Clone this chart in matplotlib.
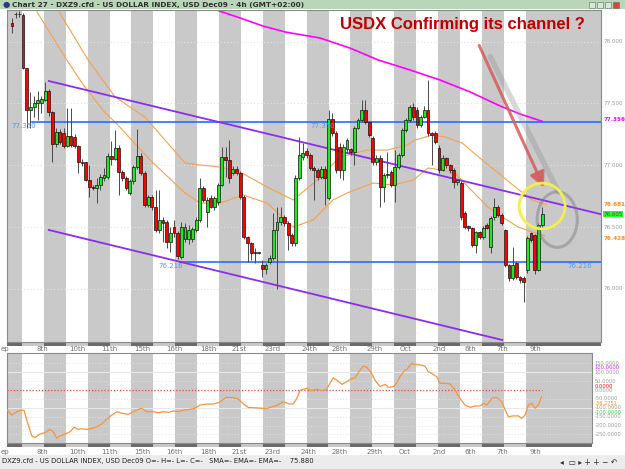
import matplotlib
matplotlib.use('Agg')
import matplotlib.pyplot as plt
import matplotlib.patches as mpatches
import matplotlib.transforms as mtransforms

plt.rcParams['font.family'] = ['DejaVu Sans']

# ---- candles, 4h bars ----
opens = [78.152, 78.225, 78.222, 78.217, 77.787, 77.447, 77.472, 77.504, 77.500, 77.528,
         77.601, 77.431, 77.172, 77.269, 77.260, 77.156, 77.237, 77.230, 77.156, 77.026,
         77.026, 76.880, 76.824, 76.816, 76.840, 76.897, 76.905, 77.075, 77.051, 77.140,
         76.945, 76.897, 76.775, 76.872, 76.986, 77.075, 76.937, 76.678, 76.743, 76.662,
         76.476, 76.557, 76.540, 76.378, 76.500, 76.451, 76.257, 76.400, 76.400, 76.400,
         76.476, 76.557, 76.816, 76.621, 76.735, 76.662, 76.700, 76.840, 77.067, 77.043,
         76.937, 76.970, 76.937, 76.743, 76.419, 76.370, 76.295, 76.290, 76.192, 76.160,
         76.217, 76.249, 76.476, 76.540, 76.581, 76.532, 76.435, 76.370, 76.897, 77.067,
         77.115, 77.083, 76.978, 76.961, 76.905, 76.970, 76.735, 77.374, 77.261, 77.150,
         76.961, 77.131, 77.131, 77.107, 77.302, 77.366, 77.447, 77.350, 77.221, 77.026,
         77.059, 76.824, 76.921, 76.945, 76.840, 76.986, 77.083, 77.285, 77.366, 77.472,
         77.447, 77.326, 77.391, 77.447, 77.261, 77.261, 77.140, 76.961, 77.059, 77.002,
         76.961, 76.864, 76.856, 76.613, 76.508, 76.492, 76.354, 76.460, 76.419, 76.516,
         76.338, 76.581, 76.662, 76.597, 76.476, 76.192, 76.087, 76.208, 76.095, 76.087,
         76.152, 76.451, 76.435, 76.152, 76.516]
highs = [78.192, 78.241, 78.245, 78.230, 77.787, 77.593, 77.560, 77.600, 77.560, 77.674,
         77.620, 77.440, 77.300, 77.290, 77.300, 77.464, 77.464, 77.250, 77.160, 77.050,
         77.030, 77.002, 76.840, 76.900, 76.930, 76.980, 77.100, 77.200, 77.285, 77.160,
         76.960, 76.910, 76.890, 77.000, 77.294, 77.100, 76.950, 76.760, 76.760, 76.800,
         76.800, 76.580, 76.560, 76.500, 76.560, 76.470, 76.540, 76.530, 76.520, 76.500,
         76.580, 76.897, 76.830, 76.740, 76.760, 76.750, 76.860, 77.148, 77.148, 77.204,
         76.990, 76.990, 76.950, 76.760, 76.430, 76.380, 76.330, 76.300, 76.232, 76.210,
         76.270, 76.613, 76.662, 76.662, 76.600, 76.550, 76.450, 76.920, 77.229, 77.180,
         77.140, 77.100, 76.990, 76.980, 76.990, 76.990, 77.447, 77.420, 77.280, 77.180,
         77.170, 77.220, 77.140, 77.320, 77.380, 77.530, 77.528, 77.360, 77.240, 77.080,
         77.080, 76.940, 77.107, 76.960, 77.123, 77.100, 77.300, 77.380, 77.490, 77.500,
         77.470, 77.410, 77.480, 77.690, 77.270, 77.280, 77.160, 77.080, 77.070, 77.010,
         76.980, 76.890, 76.870, 76.630, 76.520, 76.500, 76.470, 76.470, 76.510, 76.530,
         76.590, 76.735, 76.680, 76.610, 76.480, 76.200, 76.340, 76.220, 76.100, 76.100,
         76.430, 76.460, 76.440, 76.530, 76.662]
lows = [78.071, 78.192, 78.200, 77.780, 77.302, 77.302, 77.390, 77.366, 77.420, 77.520,
        77.400, 77.026, 77.150, 77.170, 77.140, 77.148, 77.150, 77.140, 76.937, 76.990,
        76.870, 76.743, 76.800, 76.694, 76.800, 76.870, 76.890, 77.000, 77.040, 76.759,
        76.870, 76.800, 76.760, 76.850, 76.970, 76.920, 76.660, 76.660, 76.640, 76.460,
        76.450, 76.380, 76.330, 76.300, 76.420, 76.240, 76.240, 76.378, 76.360, 76.380,
        76.460, 76.540, 76.700, 76.500, 76.650, 76.640, 76.680, 76.830, 76.905, 76.856,
        76.920, 76.920, 76.730, 76.400, 76.217, 76.230, 76.210, 76.280, 76.095, 76.120,
        76.200, 76.232, 75.998, 76.520, 76.510, 76.313, 76.350, 76.350, 76.880, 77.040,
        77.060, 76.960, 76.719, 76.880, 76.890, 76.678, 76.720, 77.240, 76.940, 76.900,
        76.880, 77.100, 77.080, 77.002, 77.290, 77.350, 77.330, 77.230, 77.000, 77.000,
        76.662, 76.700, 76.900, 76.820, 76.700, 76.970, 77.070, 77.270, 77.350, 77.370,
        77.300, 77.310, 77.380, 77.240, 77.000, 77.170, 76.940, 76.950, 76.980, 76.940,
        76.816, 76.840, 76.560, 76.480, 76.470, 76.340, 76.290, 76.400, 76.400, 76.480,
        76.290, 76.560, 76.580, 76.520, 76.180, 76.060, 76.070, 76.080, 76.050, 75.893,
        76.130, 76.380, 76.120, 76.140, 76.500]
closes = [78.127, 78.222, 78.225, 77.787, 77.447, 77.472, 77.504, 77.528, 77.536, 77.601,
          77.431, 77.172, 77.269, 77.188, 77.156, 77.237, 77.164, 77.156, 77.026, 77.020,
          76.880, 76.824, 76.816, 76.840, 76.905, 76.921, 77.075, 77.051, 77.140, 76.945,
          76.897, 76.816, 76.872, 76.986, 77.075, 76.937, 76.678, 76.743, 76.662, 76.476,
          76.557, 76.532, 76.378, 76.451, 76.451, 76.265, 76.500, 76.500, 76.476, 76.480,
          76.557, 76.816, 76.719, 76.719, 76.662, 76.735, 76.840, 77.067, 77.043, 76.897,
          76.970, 76.937, 76.743, 76.419, 76.370, 76.290, 76.290, 76.295, 76.160, 76.192,
          76.249, 76.476, 76.540, 76.581, 76.532, 76.435, 76.370, 76.897, 77.083, 77.099,
          77.083, 76.978, 76.961, 76.905, 76.970, 76.897, 77.374, 77.261, 76.961, 76.961,
          77.150, 77.204, 77.107, 77.302, 77.366, 77.447, 77.350, 77.245, 77.026, 77.059,
          76.824, 76.921, 76.929, 76.840, 76.986, 77.083, 77.285, 77.366, 77.472, 77.391,
          77.326, 77.391, 77.447, 77.261, 77.245, 77.188, 76.961, 77.059, 77.002, 76.961,
          76.864, 76.880, 76.581, 76.500, 76.492, 76.354, 76.460, 76.419, 76.492, 76.492,
          76.573, 76.662, 76.597, 76.532, 76.192, 76.087, 76.192, 76.095, 76.070, 76.055,
          76.411, 76.395, 76.152, 76.516, 76.605]

# moving averages (bar position, price)
ema_fast_x = [6.8, 14.9, 19.0, 25.3, 28.0, 37.5, 47.0, 51.1, 56.5, 62.8, 69.3, 76.4, 81.8,
              87.2, 91.0, 98.1, 103.5, 109.0, 113.0, 116.8, 120.4, 123.9, 129.3, 133.2,
              137.5, 141.3, 144.8]
ema_fast_y = [78.241, 77.852, 77.666, 77.423, 77.350, 77.043, 76.775, 76.694, 76.694, 76.759,
              76.694, 76.500, 76.557, 76.719, 76.775, 76.856, 76.840, 76.880, 76.978, 76.961,
              76.937, 76.824, 76.662, 76.581, 76.500, 76.460, 76.428]
ema_slow_x = [12.8, 20.7, 28.0, 36.1, 47.0, 51.1, 56.5, 62.0, 69.3, 76.4, 82.9, 89.1, 96.5,
              101.9, 107.3, 109.5, 114.1, 117.7, 122.3, 127.7, 132.1, 136.7, 141.3, 145.1]
ema_slow_y = [78.241, 77.852, 77.553, 77.391, 77.018, 77.002, 76.986, 76.945, 76.824, 76.719,
              76.880, 77.067, 77.123, 77.123, 77.164, 77.204, 77.245, 77.229, 77.180, 77.043,
              76.937, 76.824, 76.719, 76.681]
sma_x = [56.3, 62.0, 68.2, 74.2, 83.7, 91.8, 99.5, 108.2, 116.3, 124.5, 132.6, 138.0, 144.0]
sma_y = [78.249, 78.192, 78.127, 78.079, 78.030, 77.949, 77.852, 77.771, 77.690, 77.593,
         77.480, 77.415, 77.356]

# trend lines and levels
upper_channel = [(10.0, 77.682), (159.8, 76.605)]
lower_channel = [(10.0, 76.476), (133.2, 75.585)]
levels = [77.350, 76.216]
level_starts = [5.4, 45.7]

# CCI indicator
cci_x = [-1.3, -0.1, 1.3, 2.6, 3.3, 4.0, 5.4, 6.3, 7.6, 9.0, 10.3, 11.2, 12.2, 13.0, 14.4,
         15.8, 16.9, 18.0, 18.9, 20.3, 21.7, 23.0, 24.4, 25.7, 27.1, 28.5, 29.8, 31.6, 33.0,
         34.3, 35.2, 36.6, 38.4, 39.8, 41.1, 42.5, 43.8, 45.2, 46.6, 48.4, 49.7, 51.1, 52.9,
         54.7, 56.1, 57.4, 58.3, 60.1, 61.5, 62.9, 64.2, 68.3, 69.2, 70.1, 71.9, 73.7, 75.5,
         76.4, 77.4, 78.3, 80.1, 81.4, 82.8, 84.2, 85.5, 86.4, 87.3, 88.2, 89.6, 91.0, 91.9,
         93.2, 94.6, 95.5, 96.4, 97.7, 98.6, 100.0, 101.4, 102.3, 103.6, 104.5, 105.4, 106.8,
         107.3, 108.6, 109.5, 110.9, 112.2, 113.1, 114.5, 115.4, 116.3, 117.7, 119.0, 120.4,
         121.7, 123.1, 124.5, 125.8, 127.2, 128.1, 129.0, 130.4, 131.7, 133.1, 134.0, 134.9,
         136.2, 137.6, 138.5, 139.4, 140.3, 141.2, 142.1, 143.0, 143.9]
cci_y = [-113, -141, -122, -113, -116, -169, -259, -267, -248, -240, -222, -235, -272, -259,
         -248, -235, -210, -222, -218, -222, -216, -207, -192, -165, -141, -122, -131, -137,
         -122, -109, -103, -122, -122, -128, -122, -126, -118, -122, -113, -109, -103, -85,
         -79, -79, -71, -53, -41, -43, -51, -79, -98, -103, -107, -98, -88, -66, -79, -79, -47,
         0, 9, -4, 4, -4, 4, 38, 69, 56, 32, 47, 60, 69, 113, 135, 128, 94, 56, 19, 32, 15, 19,
         38, 75, 113, 116, 150, 144, 141, 135, 103, 88, 75, 38, 38, 34, 0, -47, -85, -98, -90,
         -90, -75, -85, -47, -41, -66, -113, -150, -146, -146, -160, -141, -85, -75, -103, -85,
         -38]

date_labels = ['ep', '8th', '10th', '11th', '15th', '16th', '18th', '21st', '23rd', '24th',
               '28th', '29th', 'Oct', '2nd', '6th', '7th', '9th']
date_pos = [-1.8, 8.2, 17.7, 26.4, 35.3, 44.0, 53.3, 61.7, 70.9, 80.7, 89.1, 98.4, 106.8,
            116.0, 124.5, 133.2, 142.1]

price_ticks = [78.0, 77.5, 77.0, 76.5, 76.0]
cci_ticks = [150, 100, 50, 0, -50, -100, -150, -200, -250]

# ---- figure ----
W, H = 625, 469
fig = plt.figure(figsize=(W / 100, H / 100), dpi=100)
fig.patch.set_facecolor('white')

def fx(px):
    return px / W

def fy(py):
    return 1 - py / H

ax = fig.add_axes([fx(7), fy(342), fx(601) - fx(7), fy(10) - fy(342)])
ax2 = fig.add_axes([fx(7), fy(443), fx(592) - fx(7), fy(353) - fy(443)])

x_left = -1.36
ax.set_xlim(x_left, 160.0)
ax.set_ylim(75.569, 78.257)
ax2.set_xlim(x_left, 157.6)
ax2.set_ylim(-298.6, 208.5)

band_gray = '#c9c9c9'
for a, xr in ((ax, 160.0), (ax2, 157.6)):
    a.set_facecolor('white')
    for k in range(-1, 24, 2):
        x0 = 2.7 + 5.95 * k
        x1 = xr if k == 23 else x0 + 5.95
        a.axvspan(x0, x1, color=band_gray, lw=0, zorder=0)
    a.set_xticks([])
    a.set_yticks([])
    for s in a.spines.values():
        s.set_color('#8a8a8a')
        s.set_linewidth(0.8)

# price grid
for t in price_ticks:
    ax.axhline(t, color='#e4e4e4', lw=0.8, ls=(0, (1, 2)), zorder=1)

# moving averages
ax.plot(ema_slow_x, ema_slow_y, color='#f7a04c', lw=0.8, zorder=2)
ax.plot(ema_fast_x, ema_fast_y, color='#f7a04c', lw=0.8, zorder=2)
ax.plot(sma_x, sma_y, color='#ff00ff', lw=1.2, zorder=2)

# levels
for lv, st in zip(levels, level_starts):
    ax.plot([st, 160.0], [lv, lv], color='#1f6fff', lw=1.2, zorder=3)

# channel
for seg in (upper_channel, lower_channel):
    ax.plot([seg[0][0], seg[1][0]], [seg[0][1], seg[1][1]], color='#8c2cf0', lw=1.3, zorder=3)

# candles
xs = list(range(len(opens)))
for i, o, h, l, c in zip(xs, opens, highs, lows, closes):
    ax.vlines(i, l, h, color='#4a4a4a', lw=0.7, zorder=4)
    up = c >= o
    ax.bar(i, max(abs(c - o), 0.006), bottom=min(o, c), width=0.78,
           color='#1ee81e' if up else '#ff0000', edgecolor='#111111', lw=0.5, zorder=5)

# annotations
ax.plot([129.9, 148.5], [77.88, 76.78], color='#909090', lw=4, alpha=0.35,
        solid_capstyle='round', zorder=6)
ax.add_patch(mpatches.Ellipse((148.1, 76.56), 10.9, 0.45, fill=False,
                              edgecolor='#7a7a7a', lw=2.2, alpha=0.45, zorder=6))
ax.annotate('', xy=(144.8, 76.80), xytext=(126.6, 77.99),
            arrowprops=dict(arrowstyle='-|>,head_length=0.9,head_width=0.45',
                            color='#d65c5c', lw=2.2, alpha=0.85), zorder=7)
ax.add_patch(mpatches.Ellipse((144.0, 76.67), 12.5, 0.37, fill=False,
                              edgecolor='#f2f04a', lw=2.0, zorder=7))
ax.text(0.766, 0.955, 'USDX Confirming its channel ?', transform=ax.transAxes,
        ha='center', va='center', fontsize=12, fontweight='bold', color='#c00000',
        family=['Liberation Sans', 'DejaVu Sans'], zorder=8)

# level labels
lab_blue = '#4c9bff'
ax.text(3.2, 77.350 - 0.03, '77.350', color=lab_blue, fontsize=5.0, ha='center', va='center', zorder=8)
ax.text(84.5, 77.350 - 0.03, '77.350', color=lab_blue, fontsize=5.0, ha='center', va='center', zorder=8)
ax.text(43.0, 76.216 - 0.035, '76.216', color=lab_blue, fontsize=5.0, ha='center', va='center', zorder=8)
ax.text(154.2, 76.216 - 0.035, '76.216', color=lab_blue, fontsize=5.0, ha='center', va='center', zorder=8)

# right price axis labels
rfs = 4.1
rt = mtransforms.blended_transform_factory(ax.transAxes, ax.transData)
for t in price_ticks:
    ax.text(1.004, t, '%.3f' % t, transform=rt, fontsize=rfs, color='#9a9a9a',
            ha='left', va='center', clip_on=False)
ax.text(1.004, sma_y[-1] + 0.015, '%.3f' % sma_y[-1], transform=rt, fontsize=rfs,
        color='#ff00ff', ha='left', va='center', clip_on=False, fontweight='bold')
ax.text(1.004, ema_slow_y[-1], '%.3f' % ema_slow_y[-1], transform=rt, fontsize=rfs,
        color='#ff8a1c', ha='left', va='center', clip_on=False, fontweight='bold')
ax.text(1.004, ema_fast_y[-1] - 0.02, '%.3f' % ema_fast_y[-1], transform=rt, fontsize=rfs,
        color='#ff8a1c', ha='left', va='center', clip_on=False, fontweight='bold')
ax.text(1.004, closes[-1], '%.3f' % closes[-1], transform=rt, fontsize=rfs,
        color='#555555', ha='left', va='center', clip_on=False,
        bbox=dict(boxstyle='square,pad=0.1', fc='#22ff22', ec='none'))

# lower panel: CCI
for t in cci_ticks:
    if t in (100, -100):
        ax2.axhline(t, color='#e8e8e8', lw=0.8, zorder=1)
    elif t != 0:
        ax2.axhline(t, color='#e2e2e2', lw=0.7, ls=(0, (1, 2)), zorder=1)
ax2.plot([x_left, 144.0], [0, 0], color='#ff4040', lw=0.9, ls=(0, (1, 1.5)), zorder=2)
ax2.plot(cci_x, cci_y, color='#f7943a', lw=0.9, zorder=3)

cfs = 3.7
rt2 = mtransforms.blended_transform_factory(ax2.transAxes, ax2.transData)
for t in cci_ticks:
    ax2.text(1.004, t, '%.4f' % t, transform=rt2, fontsize=cfs, color='#9a9a9a',
             ha='left', va='center', clip_on=False)
ax2.text(1.004, 124, '100.0000', transform=rt2, fontsize=cfs, color='#ff00ff',
         ha='left', va='center', clip_on=False)
ax2.text(1.004, 22, '0.0000', transform=rt2, fontsize=cfs, color='#ff0000',
         ha='left', va='center', clip_on=False)
ax2.text(1.004, -74, '%.4f' % -38.2751, transform=rt2, fontsize=cfs, color='#ff8a1c',
         ha='left', va='center', clip_on=False)
ax2.text(1.004, -126, '-100.0000', transform=rt2, fontsize=cfs, color='#22dd22',
         ha='left', va='center', clip_on=False)

# date strips and labels
for a, ystrip, ylab in ((ax, (342, 346), 349), (ax2, (443, 447), 452)):
    bt = mtransforms.blended_transform_factory(a.transData, fig.transFigure)
    xr = a.get_xlim()[1]
    a.add_patch(mpatches.Rectangle((x_left, fy(ystrip[1])), xr - x_left,
                                   fy(ystrip[0]) - fy(ystrip[1]), transform=bt,
                                   color='#c8c8c8', clip_on=False, lw=0))
    for k in range(-1, 24, 2):
        x0 = max(2.7 + 5.95 * k, x_left)
        x1 = xr if k == 23 else 2.7 + 5.95 * (k + 1)
        a.add_patch(mpatches.Rectangle((x0, fy(ystrip[1])), x1 - x0,
                                       fy(ystrip[0]) - fy(ystrip[1]), transform=bt,
                                       color='#6a6a6a', clip_on=False, lw=0))
    for lab, p in zip(date_labels, date_pos):
        a.text(p, fy(ylab), lab, transform=bt, fontsize=5.0, color='#707070',
               ha='center', va='center', clip_on=False)

# window chrome
fig.add_artist(mpatches.Rectangle((0, fy(9)), 1, fy(0) - fy(9), transform=fig.transFigure,
                                  color='#b9d6b9', lw=0))
fig.text(fx(3), fy(4.5), '\u25cf', fontsize=6, color='#2a3a7a', ha='left', va='center')
fig.text(fx(12), fy(4.5), 'Chart 27 - DXZ9.cfd - US DOLLAR INDEX, USD Dec09 - 4h (GMT+02:00)',
         fontsize=5.3, color='#303030', ha='left', va='center', fontweight='bold')
for bx, col in ((589, '#d8e8d8'), (597, '#d8e8d8'), (605, '#d8e8d8'), (613, '#e04040')):
    fig.add_artist(mpatches.Rectangle((fx(bx), fy(8)), fx(6), fy(2) - fy(8),
                                      transform=fig.transFigure, fc=col, ec='#607060', lw=0.4))
fig.add_artist(mpatches.Rectangle((0, 0), 1, fy(455), transform=fig.transFigure,
                                  color='#ececec', lw=0))
fig.text(fx(2), fy(461), 'DXZ9.cfd - US DOLLAR INDEX, USD Dec09 O=- H=- L=- C=-   SMA=- EMA=- EMA=-    75.880',
         fontsize=4.9, color='#202020', ha='left', va='center')
fig.text(fx(560), fy(462), '\u25c2  \u25ad \u25b8 + + \u2212 \u21b6', fontsize=5.5,
         color='#303030', ha='left', va='center')

fig.savefig('out.png', dpi=100)
